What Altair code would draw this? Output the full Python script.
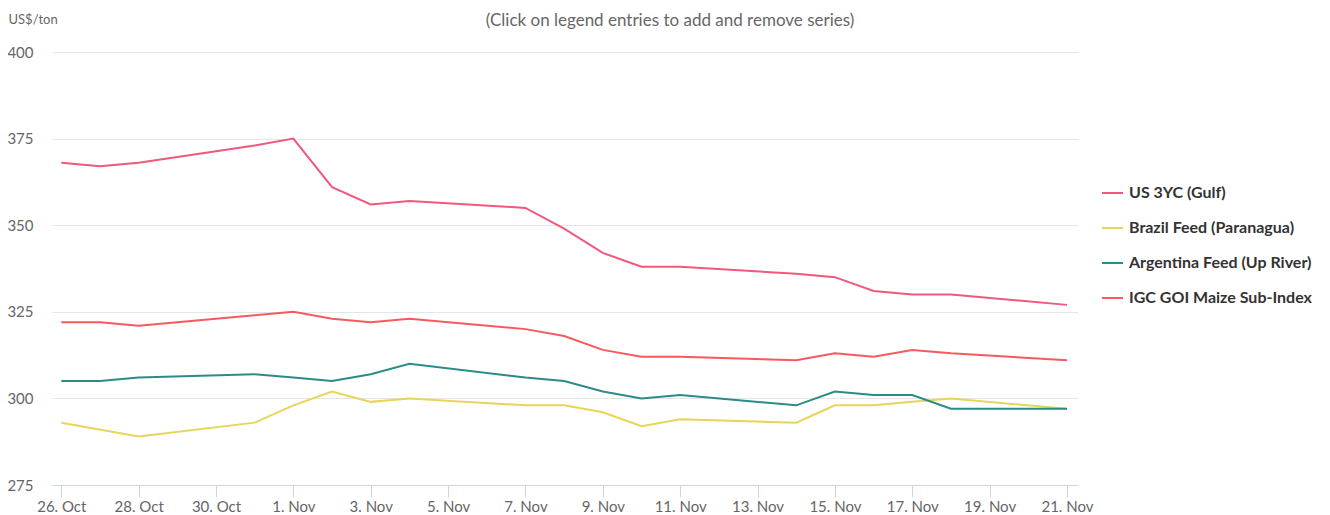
import altair as alt
import pandas as pd

# ---- data ----
dates = ["2022-10-26", "2022-10-27", "2022-10-28", "2022-10-31", "2022-11-01",
         "2022-11-02", "2022-11-03", "2022-11-04", "2022-11-07", "2022-11-08",
         "2022-11-09", "2022-11-10", "2022-11-11", "2022-11-14", "2022-11-15",
         "2022-11-16", "2022-11-17", "2022-11-18", "2022-11-21"]

us_3yc = [368, 367, 368, 373, 375, 361, 356, 357, 355, 349, 342, 338, 338,
          336, 335, 331, 330, 330, 327]
brazil = [293, None, 289, 293, 298, 302, 299, 300, 298, 298, 296, 292, 294,
          293, 298, 298, 299, 300, 297]
argentina = [305, 305, 306, 307, 306, 305, 307, 310, 306, 305, 302, 300, 301,
             298, 302, 301, 301, 297, 297]
igc_goi = [322, 322, 321, 324, 325, 323, 322, 323, 320, 318, 314, 312, 312,
           311, 313, 312, 314, 313, 311]

series_names = ["US 3YC (Gulf)", "Brazil Feed (Paranagua)",
                "Argentina Feed (Up River)", "IGC GOI Maize Sub-Index"]
series_values = [us_3yc, brazil, argentina, igc_goi]
series_colors = ["#f0587c", "#e6d658", "#2b8c87", "#f65a5c"]

tick_dates = ["2022-10-26", "2022-10-28", "2022-10-30", "2022-11-01",
              "2022-11-03", "2022-11-05", "2022-11-07", "2022-11-09",
              "2022-11-11", "2022-11-13", "2022-11-15", "2022-11-17",
              "2022-11-19", "2022-11-21"]
y_ticks = [275, 300, 325, 350, 375, 400]

rows = []
for name, vals in zip(series_names, series_values):
    for d, v in zip(dates, vals):
        if v is not None:
            rows.append({"date": d, "value": v, "series": name})
df = pd.DataFrame(rows)


def ms(s):
    return int(pd.Timestamp(s, tz="UTC").value // 10**6)


x_domain = [ms("2022-10-25 18:14"), ms("2022-11-21 06:50")]
x_ticks = [ms(t) for t in tick_dates]

FONT = "Lato"

chart = alt.Chart(df).mark_line(strokeWidth=2, interpolate="linear").encode(
    x=alt.X("date:T",
            scale=alt.Scale(type="utc", domain=x_domain),
            axis=alt.Axis(values=x_ticks,
                          labelExpr="utcFormat(datum.value, '%-d. %b')",
                          title=None, grid=False, domainColor="#ccd6eb",
                          tickColor="#ccd6eb", tickSize=12, labelPadding=2,
                          labelFont=FONT, labelFontSize=15, labelColor="#666666",
                          labelBaseline="top", labelAlign="center",
                          labelOverlap=False)),
    y=alt.Y("value:Q",
            scale=alt.Scale(domain=[275, 400], nice=False, zero=False),
            axis=alt.Axis(values=y_ticks, title="US$/ton", titleAngle=0,
                          titleAlign="left", titleBaseline="middle",
                          titleX=-44, titleY=-33, titleFont=FONT,
                          titleFontSize=13, titleFontWeight="normal",
                          titleColor="#666666", domain=False, ticks=False,
                          tickSize=0, labelPadding=19, labelFont=FONT,
                          labelFontSize=15, labelColor="#666666",
                          gridColor="#e6e6e6", gridWidth=1)),
    color=alt.Color("series:N",
                    scale=alt.Scale(domain=series_names, range=series_colors),
                    legend=alt.Legend(title=None, orient="none", legendX=1049,
                                      legendY=129.5, symbolType="stroke",
                                      symbolSize=441, symbolStrokeWidth=2,
                                      labelFont=FONT, labelFontSize=16,
                                      labelColor="#333333",
                                      labelFontWeight="bold", rowPadding=15,
                                      labelOffset=5, labelLimit=300,
                                      padding=0)),
).properties(
    width=1026,
    height=433,
    title=alt.TitleParams(text="(Click on legend entries to add and remove series)",
                          anchor="middle", frame="group", font=FONT,
                          fontSize=17, fontWeight="normal", color="#666666",
                          dx=105, dy=17, offset=0),
    padding={"left": 44, "top": 44, "right": 244, "bottom": 30},
    autosize=alt.AutoSizeParams(type="none"),
).configure(background="white").configure_view(stroke="transparent", strokeWidth=0)

chart.save("out.html", embed_options={"renderer": "svg", "actions": False})
